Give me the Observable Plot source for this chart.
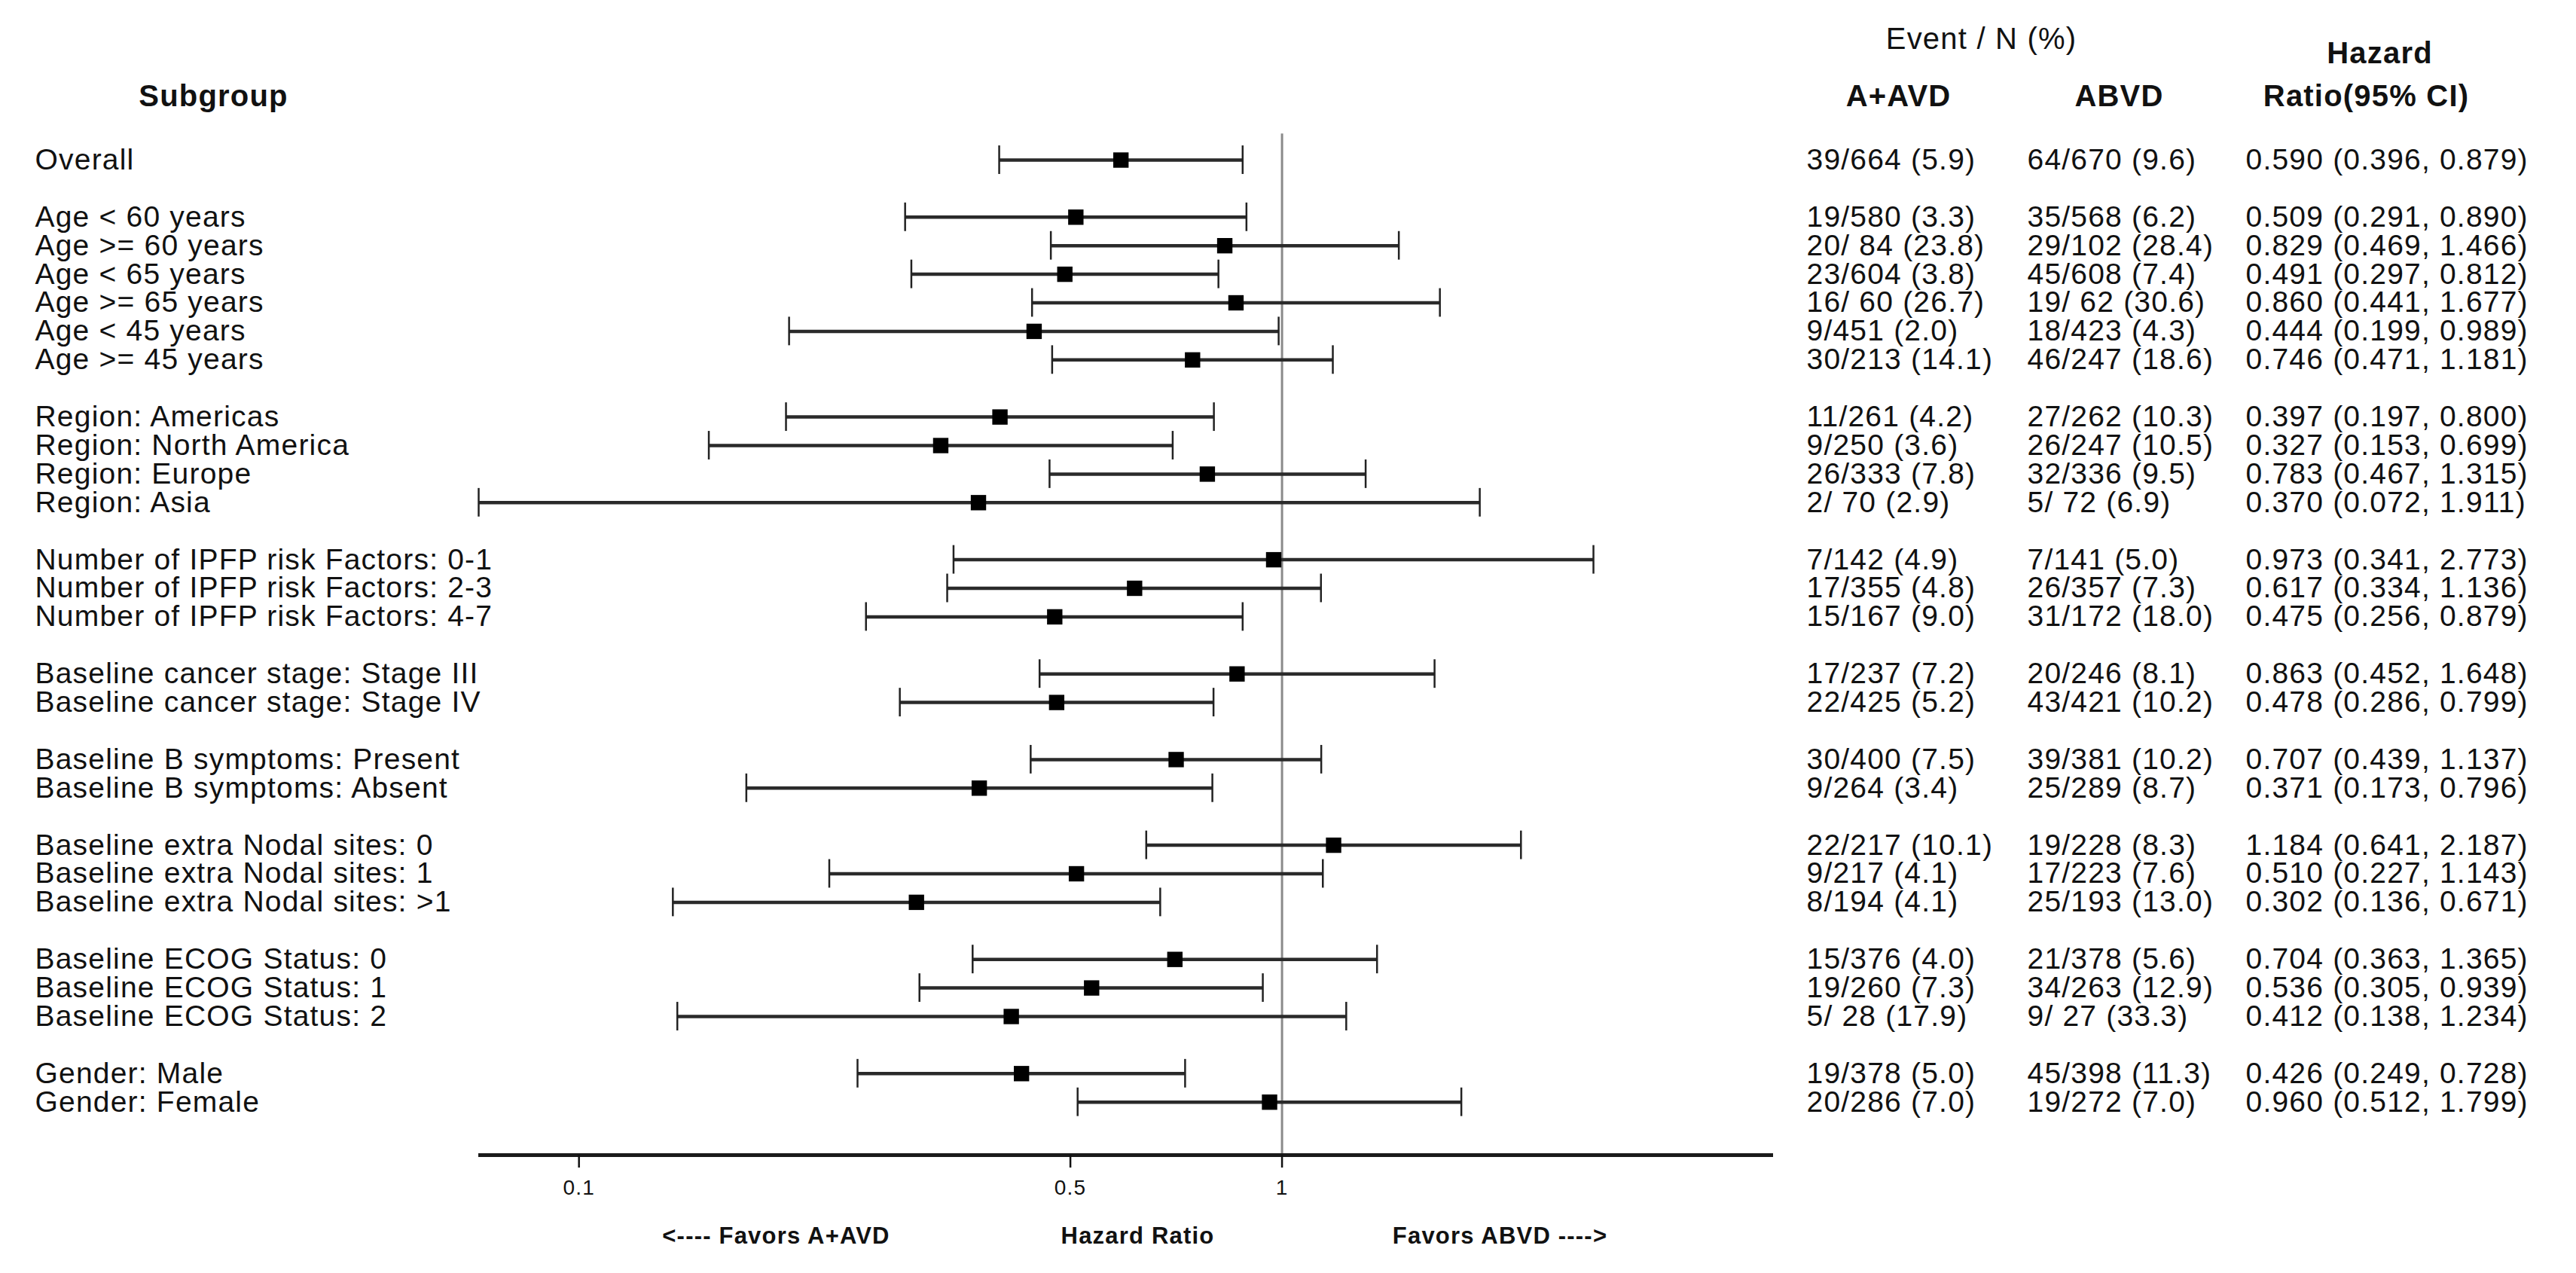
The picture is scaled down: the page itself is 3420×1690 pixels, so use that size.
<!DOCTYPE html>
<html>
<head>
<meta charset="utf-8">
<script src="https://cdn.jsdelivr.net/npm/d3@7"></script>
<script src="https://cdn.jsdelivr.net/npm/@observablehq/plot@0.6"></script>
<style>
  html, body { margin: 0; padding: 0; background: #fff; }
  #chart svg { display: block; }
</style>
</head>
<body>
<div id="chart"></div>
<script>
// ---------- data ----------
const subgroups = [
  "Overall",
  "Age < 60 years", "Age >= 60 years", "Age < 65 years", "Age >= 65 years", "Age < 45 years", "Age >= 45 years",
  "Region: Americas", "Region: North America", "Region: Europe", "Region: Asia",
  "Number of IPFP risk Factors: 0-1", "Number of IPFP risk Factors: 2-3", "Number of IPFP risk Factors: 4-7",
  "Baseline cancer stage: Stage III", "Baseline cancer stage: Stage IV",
  "Baseline B symptoms: Present", "Baseline B symptoms: Absent",
  "Baseline extra Nodal sites: 0", "Baseline extra Nodal sites: 1", "Baseline extra Nodal sites: >1",
  "Baseline ECOG Status: 0", "Baseline ECOG Status: 1", "Baseline ECOG Status: 2",
  "Gender: Male", "Gender: Female"
];
const groupKeys = [
  "Overall",
  "Age", "Age", "Age", "Age", "Age", "Age",
  "Region", "Region", "Region", "Region",
  "IPFP", "IPFP", "IPFP",
  "Stage", "Stage",
  "B", "B",
  "Nodal", "Nodal", "Nodal",
  "ECOG", "ECOG", "ECOG",
  "Gender", "Gender"
];
const aavd = [
  "39/664 (5.9)",
  "19/580 (3.3)", "20/ 84 (23.8)", "23/604 (3.8)", "16/ 60 (26.7)", "9/451 (2.0)", "30/213 (14.1)",
  "11/261 (4.2)", "9/250 (3.6)", "26/333 (7.8)", "2/ 70 (2.9)",
  "7/142 (4.9)", "17/355 (4.8)", "15/167 (9.0)",
  "17/237 (7.2)", "22/425 (5.2)",
  "30/400 (7.5)", "9/264 (3.4)",
  "22/217 (10.1)", "9/217 (4.1)", "8/194 (4.1)",
  "15/376 (4.0)", "19/260 (7.3)", "5/ 28 (17.9)",
  "19/378 (5.0)", "20/286 (7.0)"
];
const abvd = [
  "64/670 (9.6)",
  "35/568 (6.2)", "29/102 (28.4)", "45/608 (7.4)", "19/ 62 (30.6)", "18/423 (4.3)", "46/247 (18.6)",
  "27/262 (10.3)", "26/247 (10.5)", "32/336 (9.5)", "5/ 72 (6.9)",
  "7/141 (5.0)", "26/357 (7.3)", "31/172 (18.0)",
  "20/246 (8.1)", "43/421 (10.2)",
  "39/381 (10.2)", "25/289 (8.7)",
  "19/228 (8.3)", "17/223 (7.6)", "25/193 (13.0)",
  "21/378 (5.6)", "34/263 (12.9)", "9/ 27 (33.3)",
  "45/398 (11.3)", "19/272 (7.0)"
];
const hazard = [0.590, 0.509, 0.829, 0.491, 0.860, 0.444, 0.746, 0.397, 0.327, 0.783, 0.370,
  0.973, 0.617, 0.475, 0.863, 0.478, 0.707, 0.371, 1.184, 0.510, 0.302, 0.704, 0.536, 0.412, 0.426, 0.960];
const lowerCI = [0.396, 0.291, 0.469, 0.297, 0.441, 0.199, 0.471, 0.197, 0.153, 0.467, 0.072,
  0.341, 0.334, 0.256, 0.452, 0.286, 0.439, 0.173, 0.641, 0.227, 0.136, 0.363, 0.305, 0.138, 0.249, 0.512];
const upperCI = [0.879, 0.890, 1.466, 0.812, 1.677, 0.989, 1.181, 0.800, 0.699, 1.315, 1.911,
  2.773, 1.136, 0.879, 1.648, 0.799, 1.137, 0.796, 2.187, 1.143, 0.671, 1.365, 0.939, 1.234, 0.728, 1.799];
const xTicks = [0.1, 0.5, 1];
const xDomain = [0.072, 5];
const headerTop = "Event / N (%)";
const headerHazard = "Hazard";
const headerCols = ["Subgroup", "A+AVD", "ABVD", "Ratio(95% CI)"];
const axisNotes = ["<---- Favors A+AVD", "Hazard Ratio", "Favors ABVD ---->"];

// ---------- rows with a gap between groups ----------
let pos = -1, prev = null;
const rows = subgroups.map((label, i) => {
  if (prev !== null && groupKeys[i] !== prev) pos += 1;
  pos += 1;
  prev = groupKeys[i];
  return {
    label, pos,
    hr: hazard[i], lo: lowerCI[i], hi: upperCI[i],
    a: aavd[i], b: abvd[i],
    hrText: `${hazard[i].toFixed(3)} (${lowerCI[i].toFixed(3)}, ${upperCI[i].toFixed(3)})`
  };
});

const W = 3420, H = 1690;
const mLeft = 635, mRight = 1066, mTop = 0, mBottom = 157;
const yTop = -5.594, yBottom = 34.855;
const capHalf = 0.5;
const rightEdge = W - mRight;
const txt = "#111";

const header = (t, y, anchor, px, bold) => Plot.text([t], {
  text: d => d, y: () => y, frameAnchor: anchor,
  dx: anchor === "left" ? px - mLeft : px - rightEdge,
  textAnchor: "middle", fontSize: 40, fontWeight: bold ? "bold" : "normal", fill: txt
});
const note = (t, px) => Plot.text([t], {
  text: d => d, frameAnchor: "bottom-left", dx: px - mLeft, dy: 117,
  textAnchor: "middle", fontSize: 31, fontWeight: "bold", letterSpacing: "-0.5px", fill: txt
});

const chart = Plot.plot({
  width: W,
  height: H,
  marginLeft: mLeft,
  marginRight: mRight,
  marginTop: mTop,
  marginBottom: mBottom,
  style: {
    fontFamily: "'Liberation Sans', Arial, sans-serif",
    fontSize: "39px",
    background: "#fff",
    color: txt,
    letterSpacing: "1.2px"
  },
  x: { type: "log", domain: xDomain },
  y: { domain: [yTop, yBottom], reverse: true, axis: null },
  marks: [
    // reference line at HR = 1
    Plot.ruleX([1], { y1: () => -0.92, y2: () => yBottom, stroke: "#8a8a8a", strokeWidth: 3 }),
    // axis line
    Plot.ruleY([yBottom], { stroke: "#1a1a1a", strokeWidth: 5 }),
    Plot.axisX({
      ticks: xTicks, tickFormat: d => String(d), tickSize: 17, tickPadding: 16,
      fontSize: 28, strokeWidth: 2.5, stroke: "#111", fill: txt, letterSpacing: "0px"
    }),
    // confidence intervals
    Plot.ruleY(rows, { x1: "lo", x2: "hi", y: "pos", stroke: "#2a2a2a", strokeWidth: 4.5 }),
    Plot.ruleX(rows, { x: "lo", y1: d => d.pos - capHalf, y2: d => d.pos + capHalf, stroke: "#222", strokeWidth: 2.5 }),
    Plot.ruleX(rows, { x: "hi", y1: d => d.pos - capHalf, y2: d => d.pos + capHalf, stroke: "#222", strokeWidth: 2.5 }),
    // point estimates
    Plot.dot(rows, { x: "hr", y: "pos", symbol: "square", r: 11.5, fill: "#000", stroke: "none" }),
    // subgroup labels
    Plot.text(rows, { text: "label", y: "pos", frameAnchor: "left", dx: 46 - mLeft, textAnchor: "start", fill: txt }),
    // table columns
    Plot.text(rows, { text: "a", y: "pos", frameAnchor: "right", dx: 2398 - rightEdge, textAnchor: "start", fill: txt }),
    Plot.text(rows, { text: "b", y: "pos", frameAnchor: "right", dx: 2691 - rightEdge, textAnchor: "start", fill: txt }),
    Plot.text(rows, { text: "hrText", y: "pos", frameAnchor: "right", dx: 2981 - rightEdge, textAnchor: "start", fill: txt }),
    // headers
    header(headerTop, -4.22, "right", 2630, false),
    header(headerHazard, -3.72, "right", 3159, true),
    header(headerCols[0], -2.22, "left", 283, true),
    header(headerCols[1], -2.22, "right", 2520, true),
    header(headerCols[2], -2.22, "right", 2813, true),
    header(headerCols[3], -2.22, "right", 3141, true),
    // favours notes under the axis
    note(axisNotes[0], 1030),
    note(axisNotes[1], 1510),
    note(axisNotes[2], 1991)
  ]
});

document.getElementById("chart").appendChild(chart);
</script>
</body>
</html>
